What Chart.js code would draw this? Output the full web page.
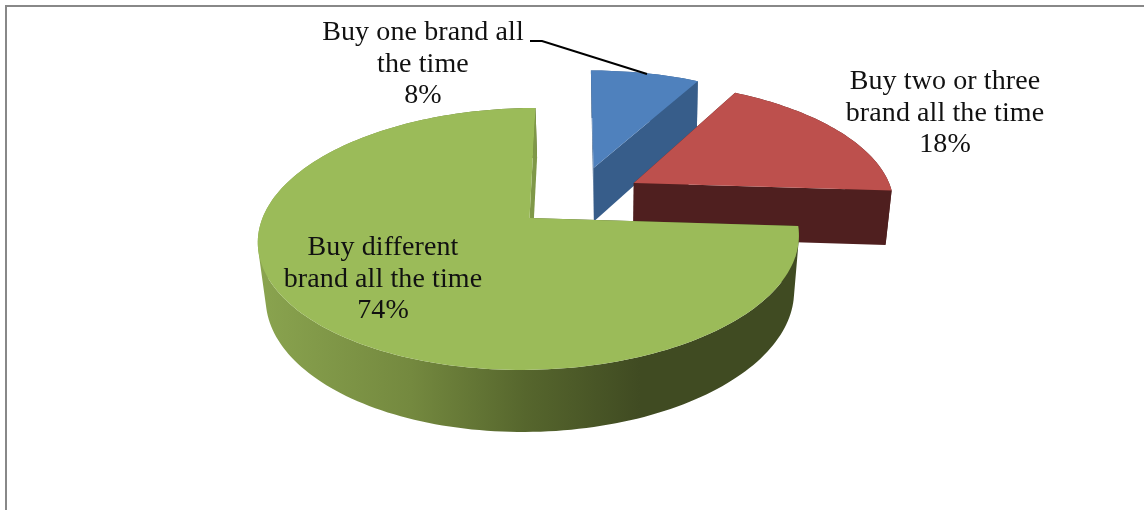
<!DOCTYPE html>
<html>
<head>
<meta charset="utf-8">
<title>Brand buying habits</title>
<script src="https://cdn.jsdelivr.net/npm/chart.js@4/dist/chart.umd.min.js"></script>
<style>
    body { margin: 0; background: #fff; }
    #chartBox { width: 1144px; height: 510px; }
</style>
</head>
<body>
<div id="chartBox"><canvas id="brandChart" width="1144" height="510"></canvas></div>
<script>
const categoryLines = [
    ['Buy one brand all', 'the time'],
    ['Buy two or three', 'brand all the time'],
    ['Buy different', 'brand all the time']
];
const values = [8, 18, 74];

const topColors = ['#4f81bd', '#bd504d', '#9bbb59'];
const wallColors = ['#375d8a', '#4f1f1f', '#7f9848'];

// pull-out of each slice on the pie's plane, 1 = one radius
const explode = [[0.245, 0.418], [0.401, 0.287], [0, 0]];
const labelCenters = [[423, 33], [945, 82], [383, 248]];
const lineGap = 31.3;

// z = 0 is the top face of the pie, z = 1 the bottom one
function project(u, v, z) {
    const cx = 529.5 + 1.5 * z;
    const cy = 218 + 56 * z;
    const rx = 267 - 6 * z;
    const ry = 127.6 + 6.2 * z;
    const k = 0.16 - 0.007 * z;
    const s = 1 / (1 + k * v);
    return [cx + (rx * u + 7 * v) * s, cy - ry * v * s];
}

function rimPoints(arc, shift, z) {
    const pts = [];
    const steps = Math.max(8, Math.ceil((arc.endAngle - arc.startAngle) * 40));
    for (let i = 0; i <= steps; i++) {
        const a = arc.startAngle + (arc.endAngle - arc.startAngle) * i / steps;
        pts.push(project(shift[0] + Math.cos(a), shift[1] - Math.sin(a), z));
    }
    return pts;
}

function fillPath(ctx, pts, color) {
    ctx.beginPath();
    pts.forEach((p, i) => i ? ctx.lineTo(p[0], p[1]) : ctx.moveTo(p[0], p[1]));
    ctx.closePath();
    ctx.fillStyle = color;
    ctx.fill();
}

function signedArea(pts) {
    let area = 0;
    pts.forEach((p, i) => {
        const q = pts[(i + 1) % pts.length];
        area += p[0] * q[1] - q[0] * p[1];
    });
    return area;
}

// curved outer wall: all quads go in one path, wound the same way,
// so no seams show between them and the overlaps don't cancel out
function outerWall(ctx, arc, shift, color) {
    const upper = rimPoints(arc, shift, 0);
    const lower = rimPoints(arc, shift, 1);
    ctx.beginPath();
    for (let i = 0; i < upper.length - 1; i++) {
        const quad = [upper[i], upper[i + 1], lower[i + 1], lower[i]];
        if (signedArea(quad) < 0) quad.reverse();
        quad.forEach((p, n) => n ? ctx.lineTo(p[0], p[1]) : ctx.moveTo(p[0], p[1]));
        ctx.closePath();
    }
    ctx.fillStyle = color;
    ctx.fill();
}

// flat face running from the slice's centre out to the rim at one angle
function cutFace(ctx, angle, shift, color) {
    const rim = [shift[0] + Math.cos(angle), shift[1] - Math.sin(angle)];
    fillPath(ctx, [
        project(shift[0], shift[1], 0),
        project(rim[0], rim[1], 0),
        project(rim[0], rim[1], 1),
        project(shift[0], shift[1], 1)
    ], color);
}

const pie3d = {
    id: 'pie3d',
    beforeDraw(chart) {
        const ctx = chart.ctx;
        ctx.fillStyle = '#fff';
        ctx.fillRect(0, 0, chart.width, chart.height);
        ctx.fillStyle = '#888';
        ctx.fillRect(5, 5, chart.width - 5, 2);
        ctx.fillRect(5, 5, 2, chart.height - 5);
    },
    afterDatasetsDraw(chart) {
        const ctx = chart.ctx;
        const arcs = chart.getDatasetMeta(0).data;

        arcs.forEach((arc, i) => {
            const shift = explode[i];
            let wall = wallColors[i];
            if (i === 2) {
                wall = ctx.createLinearGradient(258, 0, 640, 0);
                wall.addColorStop(0, '#8aa44f');
                wall.addColorStop(0.4, '#74893f');
                wall.addColorStop(0.7, '#56662d');
                wall.addColorStop(1, '#404b22');
            }
            outerWall(ctx, arc, shift, wall);
            cutFace(ctx, arc.startAngle, shift, wall);
            cutFace(ctx, arc.endAngle, shift, wallColors[i]);
            fillPath(ctx, [project(shift[0], shift[1], 0)].concat(rimPoints(arc, shift, 0)), topColors[i]);
        });

        // leader line for the first slice
        ctx.beginPath();
        ctx.moveTo(530, 41);
        ctx.lineTo(542, 41);
        ctx.lineTo(647, 74);
        ctx.strokeStyle = '#000';
        ctx.lineWidth = 2;
        ctx.stroke();

        ctx.fillStyle = '#111';
        ctx.font = '28px "Liberation Serif"';
        ctx.letterSpacing = '0.1px';
        ctx.textAlign = 'center';
        ctx.textBaseline = 'middle';
        categoryLines.forEach((lines, i) => {
            lines.concat(values[i] + '%').forEach((line, n) => {
                ctx.fillText(line, labelCenters[i][0], labelCenters[i][1] + n * lineGap);
            });
        });
    }
};

new Chart(document.getElementById('brandChart'), {
    type: 'pie',
    data: {
        labels: categoryLines.map(lines => lines.join(' ')),
        datasets: [{
            data: values,
            backgroundColor: 'rgba(0,0,0,0)',
            borderWidth: 0
        }]
    },
    options: {
        responsive: false,
        animation: false,
        plugins: {
            legend: { display: false },
            tooltip: { enabled: false }
        }
    },
    plugins: [pie3d]
});
</script>
</body>
</html>
